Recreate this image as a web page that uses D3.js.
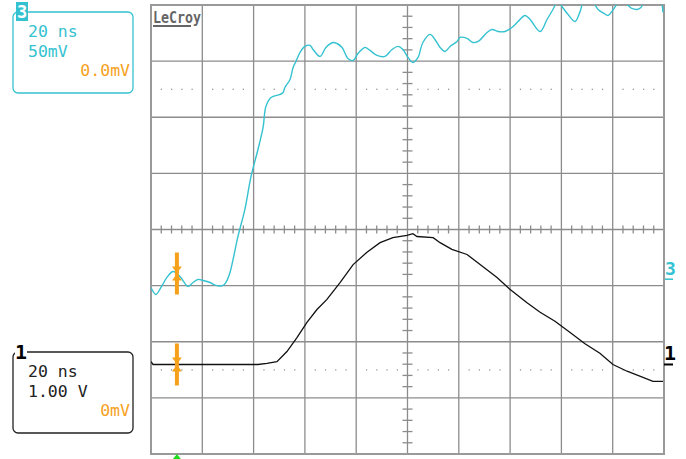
<!DOCTYPE html>
<html>
<head>
<meta charset="utf-8">
<script src="https://cdn.jsdelivr.net/npm/d3@7"></script>
<style>
  html, body { margin: 0; padding: 0; background: #fff; }
  svg { display: block; }
</style>
</head>
<body>
<div id="chart"></div>
<script>
// channel 3 (50 mV/div), time in ns, value in mV
var ch3Time = [0, 1.9, 3.9, 6.2, 8.6, 11.3, 14.4, 16.4, 18.3, 20.3, 23.0, 25.3, 28.1, 29.2, 30.8, 32.0,
    33.9, 36.6, 39.0, 41.7, 43.7, 44.8, 46.8, 50.3, 51.5, 52.2, 54.2, 55.4, 56.5, 58.1, 60.0, 62.0,
    63.2, 65.9, 68.2, 71.0, 72.5, 74.5, 76.8, 78.8, 80.7, 83.4, 85.4, 88.1, 91.2, 94.0, 96.3, 98.2,
    100.2, 102.1, 104.1, 106.0, 108.8, 110.7, 112.7, 114.6, 116.6, 119.3, 120.5, 123.2, 125.5, 127.5,
    131.0, 132.9, 135.3, 138.0, 140.7, 143.1, 145.8, 147.8, 151.7, 154.4, 156.7, 158.7, 160.2, 162.6,
    165.3, 167.3, 168.8, 171.9, 174.3, 176.6, 178.2, 179.7, 181.3, 182.8, 186.0, 187.5, 189.5, 191.0,
    192.6, 198.4, 199.6];
var ch3mV = [-7.1, -13.4, -7.1, 1.8, 7.1, 2.7, -6.2, -2.7, 0, -0.9, -2.7, -5.3, -5.3, -2.7, 6.2, 17.8,
    38.3, 62.4, 91.8, 115.8, 135.4, 154.1, 162.1, 164.8, 166.6, 171.0, 178.2, 188.9, 194.2, 202.2, 207.6, 208.5,
    204.9, 198.7, 206.7, 211.1, 210.2, 206.7, 196.9, 195.1, 201.3, 206.7, 204.0, 199.6, 198.7, 204.9, 207.6, 204.9,
    197.8, 193.3, 197.8, 211.1, 218.3, 213.8, 206.7, 203.1, 207.6, 212.0, 215.6, 214.7, 211.1, 212.0,
    220.0, 222.7, 220.9, 220.9, 224.5, 229.8, 235.2, 231.6, 220.9, 231.6, 240.5, 248, 243.2, 236.1,
    229.8, 238.8, 248, 248, 240.5, 237.0, 235.2, 238.8, 244.1, 248, 244.1, 241.4, 240.5, 242.3,
    248, 248, 237.9];

// channel 1 (1 V/div), time in ns, value in V
var ch1Time = [0, 0.8, 19.1, 41.7, 45.2, 49.1, 53.0, 56.9, 60.8, 64.7, 68.6, 73.7, 78.8, 84.2, 89.3, 94.3,
    99.8, 102.1, 103.7, 110.0, 112.7, 117.3, 123.2, 128.3, 134.9, 139.9, 146.6, 151.7, 157.5, 163.4,
    169.2, 175.0, 180.1, 185.6, 191.8, 195.7, 199.6];
var ch1V = [0.05, 0, 0, 0, 0.02, 0.05, 0.23, 0.48, 0.75, 0.98, 1.16, 1.46, 1.78, 2.00, 2.17, 2.26,
    2.30, 2.33, 2.28, 2.26, 2.17, 2.05, 1.96, 1.78, 1.55, 1.34, 1.10, 0.93, 0.77, 0.57,
    0.37, 0.20, 0.00, -0.12, -0.23, -0.30, -0.30];

// channel settings: [timebase, volts/div, offset label]
var ch3Labels = ["20 ns", "50mV", "0.0mV"];
var ch1Labels = ["20 ns", "1.00 V", "0mV"];
var ch3OffsetDiv = -0.89;   // ground level of ch3 in divisions from centre
var ch1OffsetDiv = -2.405;  // ground level of ch1
var cursorTime = 10.1;      // orange markers / trigger position (ns)
var ch3Cursor = 5.3;        // mV
var ch1Cursor = 0;          // V

var width = 686, height = 459;
var cyan = "#35c2d0", orange = "#f6a11c", gridColor = "#8c8c8c";

var svg = d3.select("#chart").append("svg")
    .attr("width", width)
    .attr("height", height);

// scales: screen is 10 x 8 divisions
var x = d3.scaleLinear().domain([0, 200]).range([151, 664]);
var xDiv = d3.scaleLinear().domain([0, 10]).range([151, 664]);
var yDiv = d3.scaleLinear().domain([-4, 4]).range([454, 5]);
var y3 = d3.scaleLinear().domain([(-4 - ch3OffsetDiv) * 50, (4 - ch3OffsetDiv) * 50]).range([454, 5]);
var y1 = d3.scaleLinear().domain([(-4 - ch1OffsetDiv), (4 - ch1OffsetDiv)]).range([454, 5]);

var grid = svg.append("g");

// dotted rows at +-2.5 div
[-2.5, 2.5].forEach(function (r) {
    d3.range(0, 50).forEach(function (i) {
        if (i % 5 === 0) return;
        grid.append("rect")
            .attr("x", xDiv(i / 5) - 0.5)
            .attr("y", yDiv(r) - 0.5)
            .attr("width", 1.2).attr("height", 1.2)
            .attr("fill", "#888");
    });
});

// major grid lines
grid.selectAll("line.v").data(d3.range(1, 10)).enter().append("line")
    .attr("x1", function (d) { return xDiv(d); }).attr("x2", function (d) { return xDiv(d); })
    .attr("y1", yDiv(-4)).attr("y2", yDiv(4))
    .attr("stroke", gridColor).attr("stroke-width", 1.3);
grid.selectAll("line.h").data(d3.range(-3, 4)).enter().append("line")
    .attr("y1", function (d) { return yDiv(d); }).attr("y2", function (d) { return yDiv(d); })
    .attr("x1", xDiv(0)).attr("x2", xDiv(10))
    .attr("stroke", gridColor).attr("stroke-width", 1.3);

// minor ticks on centre cross
d3.range(1, 50).filter(function (i) { return i % 5 !== 0; }).forEach(function (i) {
    grid.append("line")
        .attr("x1", xDiv(i / 5)).attr("x2", xDiv(i / 5))
        .attr("y1", yDiv(0) - 4).attr("y2", yDiv(0) + 4)
        .attr("stroke", gridColor).attr("stroke-width", 1.3);
});
d3.range(-19, 20).filter(function (i) { return i % 5 !== 0; }).forEach(function (i) {
    grid.append("line")
        .attr("y1", yDiv(i / 5)).attr("y2", yDiv(i / 5))
        .attr("x1", xDiv(5) - 5).attr("x2", xDiv(5) + 5)
        .attr("stroke", gridColor).attr("stroke-width", 1.3);
});

// border
grid.append("rect")
    .attr("x", xDiv(0)).attr("y", yDiv(4))
    .attr("width", xDiv(10) - xDiv(0)).attr("height", yDiv(-4) - yDiv(4))
    .attr("fill", "none").attr("stroke", "#999").attr("stroke-width", 2);

// LeCroy logo
svg.append("text")
    .attr("x", 153).attr("y", 23)
    .attr("font-family", "DejaVu Sans Mono").attr("font-weight", "bold")
    .attr("font-size", 16).attr("fill", "#666")
    .attr("textLength", 48).attr("lengthAdjust", "spacingAndGlyphs")
    .text("LeCroy");
svg.append("rect").attr("x", 153).attr("y", 25).attr("width", 38).attr("height", 2).attr("fill", "#666");

// traces
svg.append("clipPath").attr("id", "screen").append("rect")
    .attr("x", xDiv(0)).attr("y", yDiv(4))
    .attr("width", xDiv(10) - xDiv(0)).attr("height", yDiv(-4) - yDiv(4));

var line3 = d3.line()
    .x(function (d, i) { return x(ch3Time[i]); })
    .y(function (d) { return y3(d); })
    .curve(d3.curveCatmullRom);
var line1 = d3.line()
    .x(function (d, i) { return x(ch1Time[i]); })
    .y(function (d) { return y1(d); });

svg.append("path").datum(ch3mV)
    .attr("clip-path", "url(#screen)")
    .attr("d", line3).attr("fill", "none")
    .attr("stroke", cyan).attr("stroke-width", 1.4);
svg.append("path").datum(ch1V)
    .attr("clip-path", "url(#screen)")
    .attr("d", line1).attr("fill", "none")
    .attr("stroke", "#111").attr("stroke-width", 1.3);

// orange cursor markers
function drawCursor(cx, cy) {
    var g = svg.append("g").attr("fill", orange);
    g.append("rect").attr("x", cx - 2).attr("y", cy - 21).attr("width", 4).attr("height", 42);
    g.append("path").attr("d", "M" + (cx - 5) + "," + (cy - 7) + "L" + (cx + 5) + "," + (cy - 7) + "L" + cx + "," + (cy - 0.5) + "Z");
    g.append("path").attr("d", "M" + (cx - 5) + "," + (cy + 7) + "L" + (cx + 5) + "," + (cy + 7) + "L" + cx + "," + (cy + 0.5) + "Z");
}
drawCursor(x(cursorTime), y3(ch3Cursor));
drawCursor(x(cursorTime), y1(ch1Cursor));

// trigger marker
svg.append("path")
    .attr("d", "M" + (x(cursorTime) - 4) + ",459L" + (x(cursorTime) + 4) + ",459L" + x(cursorTime) + ",454Z")
    .attr("fill", "#1fdc1f");

// right side ground level markers
svg.append("text").attr("x", 665).attr("y", y3(0) - 4)
    .attr("font-family", "DejaVu Sans Mono").attr("font-weight", "bold")
    .attr("font-size", 18).attr("fill", cyan).text("3");
svg.append("rect").attr("x", 665).attr("y", y3(0) - 1).attr("width", 8).attr("height", 1.5).attr("fill", cyan);
svg.append("text").attr("x", 664).attr("y", y1(0) - 4)
    .attr("font-family", "DejaVu Sans Mono").attr("font-weight", "bold")
    .attr("font-size", 20).attr("fill", "#000").text("1");
svg.append("rect").attr("x", 664).attr("y", y1(0) - 1).attr("width", 9).attr("height", 2).attr("fill", "#000");

// info boxes
function infoBox(top, color, labels, chan, filledTag) {
    var g = svg.append("g");
    g.append("rect")
        .attr("x", 13).attr("y", top).attr("width", 120).attr("height", 81)
        .attr("rx", 5).attr("fill", "none")
        .attr("stroke", color).attr("stroke-width", 1.3);
    if (filledTag) {
        g.append("rect").attr("x", 16).attr("y", top - 10).attr("width", 12).attr("height", 19).attr("fill", color);
        g.append("text").attr("x", 22).attr("y", top + 6).attr("text-anchor", "middle")
            .attr("font-family", "DejaVu Sans Mono").attr("font-weight", "bold")
            .attr("font-size", 17).attr("fill", "#fff").text(chan);
    } else {
        g.append("rect").attr("x", 15).attr("y", top - 3).attr("width", 12).attr("height", 6).attr("fill", "#fff");
        g.append("text").attr("x", 21).attr("y", top + 7).attr("text-anchor", "middle")
            .attr("font-family", "DejaVu Sans Mono").attr("font-weight", "bold")
            .attr("font-size", 20).attr("fill", "#000").text(chan);
    }
    g.append("text").attr("x", 28).attr("y", top + 25)
        .attr("font-family", "DejaVu Sans Mono").attr("font-size", 16.5).attr("fill", color).text(labels[0]);
    g.append("text").attr("x", 28).attr("y", top + 45)
        .attr("font-family", "DejaVu Sans Mono").attr("font-size", 16.5).attr("fill", color).text(labels[1]);
    g.append("text").attr("x", 130).attr("y", top + 64).attr("text-anchor", "end")
        .attr("font-family", "DejaVu Sans Mono").attr("font-size", 16.5).attr("fill", orange).text(labels[2]);
}
infoBox(12, cyan, ch3Labels, "3", true);
infoBox(352, "#222", ch1Labels, "1", false);
</script>
</body>
</html>
